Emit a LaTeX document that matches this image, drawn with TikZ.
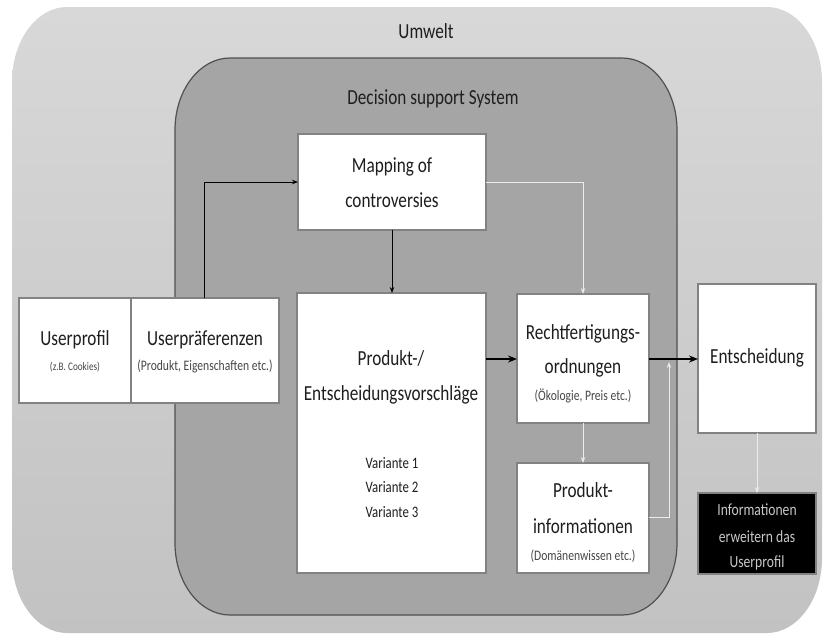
\documentclass[tikz,border=0pt]{standalone}
\usepackage{fontspec}
\setmainfont{Carlito}[FakeStretch=0.8]
\usetikzlibrary{arrows.meta}
\definecolor{outerA}{RGB}{216,216,216}
\definecolor{outerB}{RGB}{194,194,194}
\definecolor{innerF}{RGB}{165,165,165}
\definecolor{innerD}{RGB}{80,80,80}
\definecolor{boxgray}{RGB}{130,130,130}
\definecolor{txtmain}{RGB}{30,30,30}
\definecolor{txtsmall}{RGB}{70,70,70}
\definecolor{txtinv}{RGB}{200,200,200}
\definecolor{wline}{RGB}{236,236,236}
\newcommand\ellrect[6]{%
  (#1+#5,#2) -- (#3-#5,#2) arc[start angle=270,end angle=360,x radius=#5,y radius=#6]
  -- (#3,#4-#6) arc[start angle=0,end angle=90,x radius=#5,y radius=#6]
  -- (#1+#5,#4) arc[start angle=90,end angle=180,x radius=#5,y radius=#6]
  -- (#1,#2+#6) arc[start angle=180,end angle=270,x radius=#5,y radius=#6] -- cycle}
\tikzset{
  wbox/.style={draw=boxgray, fill=white, line width=1.3pt, inner sep=0pt, outer sep=0pt, anchor=north west},
  bbox/.style={draw=boxgray, fill=black, line width=1.3pt, inner sep=0pt, outer sep=0pt, anchor=north west},
  txt/.style={inner sep=0pt, anchor=base, text=txtmain, font=\fontsize{21.5}{26}\selectfont},
  stxt/.style={inner sep=0pt, anchor=base, text=txtsmall, font=\fontsize{14.5}{17}\selectfont},
  vtxt/.style={inner sep=0pt, anchor=base, text=txtmain, font=\fontsize{16}{19}\selectfont},
  itxt/.style={inner sep=0pt, anchor=base, text=txtinv, font=\fontsize{17}{20}\selectfont},
  blk/.style={draw=black, line width=1pt, -{Stealth[length=6pt,width=4.5pt]}},
  blkthick/.style={draw=black, line width=2pt, -{Stealth[length=9pt,width=7pt]}},
  wht/.style={draw=wline, line width=1pt, -{Stealth[length=6pt,width=4.5pt]}}
}
\begin{document}
\begin{tikzpicture}[x=1pt,y=-1pt]
\useasboundingbox (0,0) rectangle (824,635);
% environments
\shade[top color=outerA, bottom color=outerB] \ellrect{12}{7}{822}{633}{55}{75};
\filldraw[fill=innerF, draw=innerD, line width=1.2pt] \ellrect{175}{58}{677}{615}{55}{72};
\node[txt] (umwelt) at (426,38) {Umwelt};
\node[txt] (dss) at (433,104) {Decision support System};
% boxes
\node[wbox, minimum width=112, minimum height=105] (uprof) at (19,298) {};
\node[wbox, minimum width=148, minimum height=105] (upref) at (131,298) {};
\node[wbox, minimum width=188, minimum height=96] (map) at (298,134) {};
\node[wbox, minimum width=189, minimum height=280] (prod) at (297,293) {};
\node[wbox, minimum width=132, minimum height=129] (recht) at (517,294) {};
\node[wbox, minimum width=132, minimum height=110] (pinfo) at (517,463) {};
\node[wbox, minimum width=118, minimum height=149] (ent) at (698,284) {};
\node[bbox, minimum width=118, minimum height=81] (info) at (698,493) {};
% texts
\node[txt] (t-uprof) at (75,345) {Userprofil};
\node[stxt, font=\fontsize{11.5}{14}\selectfont] (s-uprof) at (75,370) {(z.B. Cookies)};
\node[txt] (t-upref) at (205,345) {Userpräferenzen};
\node[stxt] (s-upref) at (205,370) {(Produkt, Eigenschaften etc.)};
\node[txt] (t-map1) at (392,172) {Mapping of};
\node[txt] (t-map2) at (392,207) {controversies};
\node[txt] (t-prod1) at (391,365) {Produkt-/};
\node[txt] (t-prod2) at (391,400) {Entscheidungsvorschläge};
\node[vtxt] (v1) at (392,468) {Variante 1};
\node[vtxt] (v2) at (392,492) {Variante 2};
\node[vtxt] (v3) at (392,517) {Variante 3};
\node[txt] (t-recht1) at (583,339) {Rechtfertigungs-};
\node[txt] (t-recht2) at (583,373) {ordnungen};
\node[stxt] (s-recht) at (583,400) {(Ökologie, Preis etc.)};
\node[txt] (t-pinfo1) at (583,497) {Produkt-};
\node[txt] (t-pinfo2) at (583,533) {informationen};
\node[stxt] (s-pinfo) at (583,560) {(Domänenwissen etc.)};
\node[txt] (t-ent) at (757,363) {Entscheidung};
\node[itxt] (i1) at (757,515) {Informationen};
\node[itxt] (i2) at (757,542) {erweitern das};
\node[itxt] (i3) at (757,567) {Userprofil};
% connectors
\draw[blk] (upref.north -| 204,0) |- (map.west);
\draw[blk] (map.south) -- (prod.north -| map.south);
\draw[wht] (map.east) -| (recht.north);
\draw[blkthick] (prod.east |- 0,359) -- (recht.west |- 0,359);
\draw[blkthick] (recht.east |- 0,359) -- (ent.west |- 0,359);
\draw[wht] (recht.south) -- (pinfo.north);
\coordinate (join) at (669,362);
\draw[wht] (pinfo.east |- 0,517) -| (join);
\draw[wht] (ent.south) -- (info.north);
\end{tikzpicture}
\end{document}
